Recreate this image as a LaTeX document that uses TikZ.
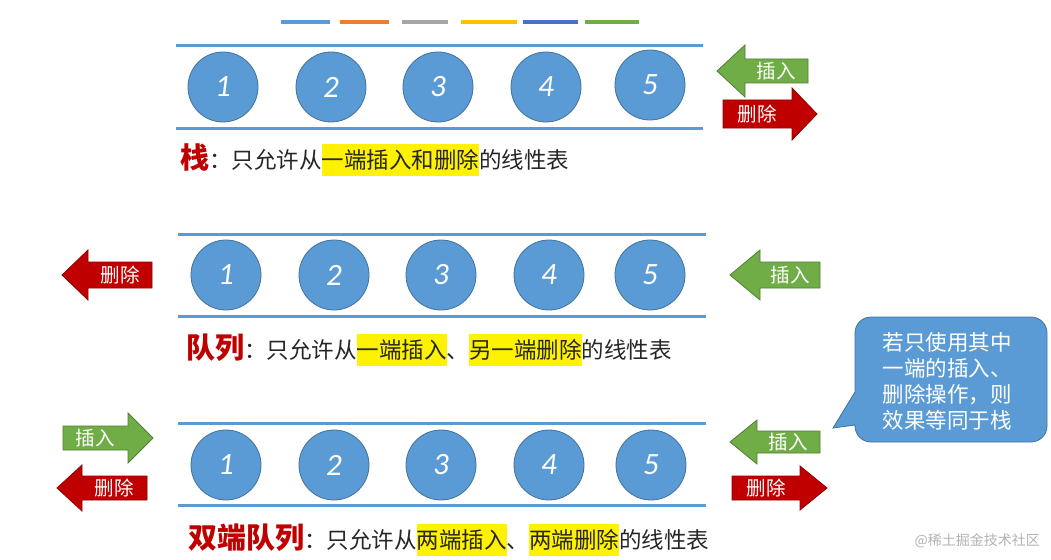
\documentclass[tikz,border=0pt]{standalone}
\usepackage{fontspec}
\setmainfont{Carlito}
\newfontfamily\cjk{Noto Sans CJK SC}
\definecolor{qblue}{HTML}{5B9BD5}
\definecolor{qblueD}{HTML}{41719C}
\definecolor{qgreen}{HTML}{70AD47}
\definecolor{qgreenD}{HTML}{507E32}
\definecolor{qred}{HTML}{C00000}
\definecolor{qredD}{HTML}{8F0000}
\definecolor{qorange}{HTML}{ED7D31}
\definecolor{qgray}{HTML}{A5A5A5}
\definecolor{qgold}{HTML}{FFC000}
\definecolor{qdblue}{HTML}{4472C4}
\definecolor{qtext}{HTML}{262626}
\newcommand\hlt[1]{{\setlength{\fboxsep}{0pt}\colorbox{yellow}{\rule[-8pt]{0pt}{32pt}#1}}}
\newcommand\ArrowShape[7]{%
  \draw[#7] (#1,#2) -- (#3,#2-#5) -- (#3,#2-#6) -- (#4,#2-#6) -- (#4,#2+#6) -- (#3,#2+#6) -- (#3,#2+#5) -- cycle;}
\tikzset{
  rail/.style={draw=qblue, line width=3pt},
  ball/.style={circle, fill=qblue, draw=qblueD, line width=0.8pt, minimum size=70pt, inner sep=0pt,
     text=white, font=\fontsize{31}{31}\selectfont\itshape},
  bar/.style={line width=4.5pt},
  garrow/.style={fill=qgreen, draw=qgreenD, line width=0.8pt},
  rarrow/.style={fill=qred, draw=qredD, line width=0.8pt},
  arrowtext/.style={text=white, font=\cjk\fontsize{19.5}{20}\selectfont, inner sep=0pt},
  line/.style={anchor=west, inner sep=0pt, text=qtext, font=\cjk\fontsize{22.5}{23}\selectfont},
}
\newcommand\ttl[1]{\textcolor{qred}{\bfseries\fontsize{29}{29}\selectfont #1}}
\begin{document}
\begin{tikzpicture}[x=1pt,y=-1pt]
\useasboundingbox (0,0) rectangle (1051,559);
% colour bars
\draw[bar, qblue] (281,22) -- (330,22);
\draw[bar, qorange] (340,22) -- (389,22);
\draw[bar, qgray] (402,22) -- (448,22);
\draw[bar, qgold] (461,22) -- (517,22);
\draw[bar, qdblue] (523,22) -- (578,22);
\draw[bar, qgreen] (585,22) -- (639,22);
% ---- stack
\draw[rail] (176,46) -- (703,46);
\draw[rail] (176,128) -- (703,128);
\node[ball] (sa) at (223,87) {1};
\node[ball] (sb) at (331,87) {2};
\node[ball] (sc) at (438,87) {3};
\node[ball] (sd) at (546,87) {4};
\node[ball] (se) at (650,85) {5};
\ArrowShape{717}{71}{745}{808}{26}{12}{garrow}
\node[arrowtext] (sins) at (776,71) {插入};
\ArrowShape{817}{114}{792}{723}{26}{14}{rarrow}
\node[arrowtext] (sdel) at (757,114) {删除};
\node[line] (stxt) at (180,160) {\ttl{栈}：只允许从\hlt{一端插入和删除}的线性表};
% ---- queue
\draw[rail] (178,234) -- (706,234);
\draw[rail] (178,316) -- (706,316);
\node[ball] (qa) at (226,275) {1};
\node[ball] (qb) at (334,275) {2};
\node[ball] (qc) at (441,275) {3};
\node[ball] (qd) at (549,275) {4};
\node[ball] (qe) at (650,275) {5};
\ArrowShape{62}{275}{88}{152}{25}{13}{rarrow}
\node[arrowtext] (qdel) at (120,275) {删除};
\ArrowShape{730}{275}{760}{820}{25}{13}{garrow}
\node[arrowtext] (qins) at (790,275) {插入};
\node[line] (qtxt) at (186,350) {\ttl{队列}：只允许从\hlt{一端插入}、\hlt{另一端删除}的线性表};
% ---- deque
\draw[rail] (178,423) -- (706,423);
\draw[rail] (178,505) -- (706,505);
\node[ball] (da) at (226,465) {1};
\node[ball] (db) at (334,465) {2};
\node[ball] (dc) at (441,465) {3};
\node[ball] (dd) at (549,465) {4};
\node[ball] (de) at (651,465) {5};
\ArrowShape{153}{438}{128}{63}{25}{12}{garrow}
\node[arrowtext] (dins1) at (95,438) {插入};
\ArrowShape{57}{488}{82}{147}{23}{12}{rarrow}
\node[arrowtext] (ddel1) at (114,488) {删除};
\ArrowShape{730}{442}{757}{820}{22}{11}{garrow}
\node[arrowtext] (dins2) at (788,442) {插入};
\ArrowShape{827}{488}{800}{732}{22}{12}{rarrow}
\node[arrowtext] (ddel2) at (766,488) {删除};
\node[line] (dtxt) at (188,540) {\ttl{双端队列}：只允许从\hlt{两端插入}、\hlt{两端删除}的线性表};
% ---- callout
\draw[fill=qblue, draw=qblueD, line width=0.8pt]
  (833,428) -- (855,392) [rounded corners=16pt] -- (855,317) -- (1047,317) -- (1047,442) -- (855,442) [sharp corners] -- (855,425) -- cycle;
\node[text=white, font=\cjk\fontsize{21.5}{26}\selectfont, align=center, inner sep=0pt] (note) at (947,381)
  {若只使用其中\\一端的插入、\\删除操作，则\\效果等同于栈};
% watermark text
\node[text=gray!60, font=\cjk\fontsize{14}{14}\selectfont, anchor=east, inner sep=0pt] (wm) at (1040,541) {@稀土掘金技术社区};
\end{tikzpicture}
\end{document}
